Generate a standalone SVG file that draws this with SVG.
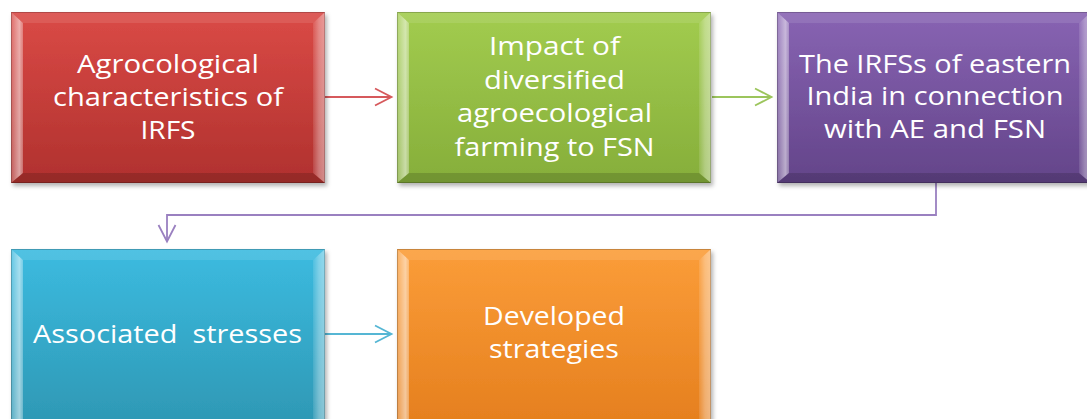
<svg xmlns="http://www.w3.org/2000/svg" xmlns:xlink="http://www.w3.org/1999/xlink" width="1087" height="419" viewBox="0 0 1087 419">
<defs>
<style>
.lbl{font-family:"Open Sans","Liberation Sans",sans-serif;font-size:25px;fill:#ffffff;text-anchor:middle}
.con{fill:none;stroke-width:1.8;stroke-linejoin:miter}
</style>
<filter id="sh" x="-5%" y="-5%" width="115%" height="120%">
<feDropShadow dx="2" dy="3" stdDeviation="2" flood-color="#000" flood-opacity="0.3"/>
</filter>
<linearGradient id="gL" x1="0" y1="0" x2="1" y2="0">
<stop offset="0" stop-color="#fff" stop-opacity="0.2"/>
<stop offset="0.7" stop-color="#fff" stop-opacity="0.55"/>
<stop offset="1" stop-color="#fff" stop-opacity="0.3"/>
</linearGradient>
<linearGradient id="gR" x1="0" y1="0" x2="1" y2="0">
<stop offset="0" stop-color="#fff" stop-opacity="0.1"/>
<stop offset="0.5" stop-color="#fff" stop-opacity="0.35"/>
<stop offset="1" stop-color="#fff" stop-opacity="0.45"/>
</linearGradient>
<linearGradient id="red" x1="0" y1="0" x2="0" y2="1"><stop offset="0" stop-color="#da4a46"/><stop offset="1" stop-color="#b0312e"/></linearGradient>
<linearGradient id="grn" x1="0" y1="0" x2="0" y2="1"><stop offset="0" stop-color="#a2cc4f"/><stop offset="1" stop-color="#86ae3a"/></linearGradient>
<linearGradient id="pur" x1="0" y1="0" x2="0" y2="1"><stop offset="0" stop-color="#8864b3"/><stop offset="1" stop-color="#634489"/></linearGradient>
<linearGradient id="blu" x1="0" y1="0" x2="0" y2="1"><stop offset="0" stop-color="#3cbbe0"/><stop offset="1" stop-color="#2c93ae"/></linearGradient>
<linearGradient id="org" x1="0" y1="0" x2="0" y2="1"><stop offset="0" stop-color="#fb9d39"/><stop offset="1" stop-color="#e27b1a"/></linearGradient>
<g id="bevel">
<polygon points="0,0 314,0 302,11 12,11" fill="#fff" fill-opacity="0.1"/>
<polygon points="0,0 12,11 12,161 0,171" fill="url(#gL)"/>
<polygon points="314,0 314,171 302,161 302,11" fill="url(#gR)"/>
<polygon points="0,171 12,161 302,161 314,171" fill="#000" fill-opacity="0.15"/>
<rect x="0.5" y="0.5" width="313" height="170" fill="none" stroke="#000" stroke-opacity="0.2"/>
</g>
<g id="bevelT">
<polygon points="0,0 314,0 302,11 12,11" fill="#fff" fill-opacity="0.1"/>
<polygon points="0,0 12,11 12,190 0,200" fill="url(#gL)"/>
<polygon points="314,0 314,200 302,190 302,11" fill="url(#gR)"/>
<rect x="0.5" y="0.5" width="313" height="199" fill="none" stroke="#000" stroke-opacity="0.2"/>
</g>
</defs>
<rect width="1087" height="419" fill="#ffffff"/>
<g id="connectors">
<g stroke="#d6595c" class="con"><path d="M325,97 H391"/><path d="M375,88.5 L391.5,97 L375,105.5"/></g>
<g stroke="#9cc55c" class="con"><path d="M712,97 H771"/><path d="M755,88.5 L771.5,97 L755,105.5"/></g>
<g stroke="#9a80c0" class="con"><path d="M936,183 V215 H167 V241"/><path d="M158.5,225 L167,241.5 L175.5,225"/></g>
<g stroke="#55b6d4" class="con"><path d="M325,334 H391"/><path d="M375,325.5 L391.5,334 L375,342.5"/></g>
</g>
<g id="node1" transform="translate(11,12)">
<rect width="314" height="171" fill="url(#red)" filter="url(#sh)"/>
<use xlink:href="#bevel"/>
<text class="lbl" x="157" y="61" textLength="182" lengthAdjust="spacingAndGlyphs">Agrocological</text>
<text class="lbl" x="157" y="94" textLength="230" lengthAdjust="spacingAndGlyphs">characteristics of</text>
<text class="lbl" x="157" y="127" textLength="55" lengthAdjust="spacingAndGlyphs">IRFS</text>
</g>
<g id="node2" transform="translate(397,12)">
<rect width="314" height="171" fill="url(#grn)" filter="url(#sh)"/>
<use xlink:href="#bevel"/>
<text class="lbl" x="157.5" y="43" textLength="131" lengthAdjust="spacingAndGlyphs">Impact of</text>
<text class="lbl" x="157.5" y="76.5" textLength="141" lengthAdjust="spacingAndGlyphs">diversified</text>
<text class="lbl" x="157.5" y="110" textLength="195" lengthAdjust="spacingAndGlyphs">agroecological</text>
<text class="lbl" x="157.5" y="143.5" textLength="200" lengthAdjust="spacingAndGlyphs">farming to FSN</text>
</g>
<g id="node3" transform="translate(777,12)">
<rect width="314" height="171" fill="url(#pur)" filter="url(#sh)"/>
<use xlink:href="#bevel"/>
<text class="lbl" x="158" y="60.5" textLength="272" lengthAdjust="spacingAndGlyphs">The IRFSs of eastern</text>
<text class="lbl" x="158" y="92.5" textLength="257" lengthAdjust="spacingAndGlyphs">India in connection</text>
<text class="lbl" x="158" y="125.5" textLength="222" lengthAdjust="spacingAndGlyphs">with AE and FSN</text>
</g>
<g id="node4" transform="translate(11,249)">
<rect width="314" height="200" fill="url(#blu)" filter="url(#sh)"/>
<use xlink:href="#bevelT"/>
<text class="lbl" x="156.5" y="94" textLength="269" lengthAdjust="spacingAndGlyphs" xml:space="preserve">Associated  stresses</text>
</g>
<g id="node5" transform="translate(397,249)">
<rect width="314" height="200" fill="url(#org)" filter="url(#sh)"/>
<use xlink:href="#bevelT"/>
<text class="lbl" x="157" y="76" textLength="142" lengthAdjust="spacingAndGlyphs">Developed</text>
<text class="lbl" x="157" y="109" textLength="130" lengthAdjust="spacingAndGlyphs">strategies</text>
</g>
</svg>
